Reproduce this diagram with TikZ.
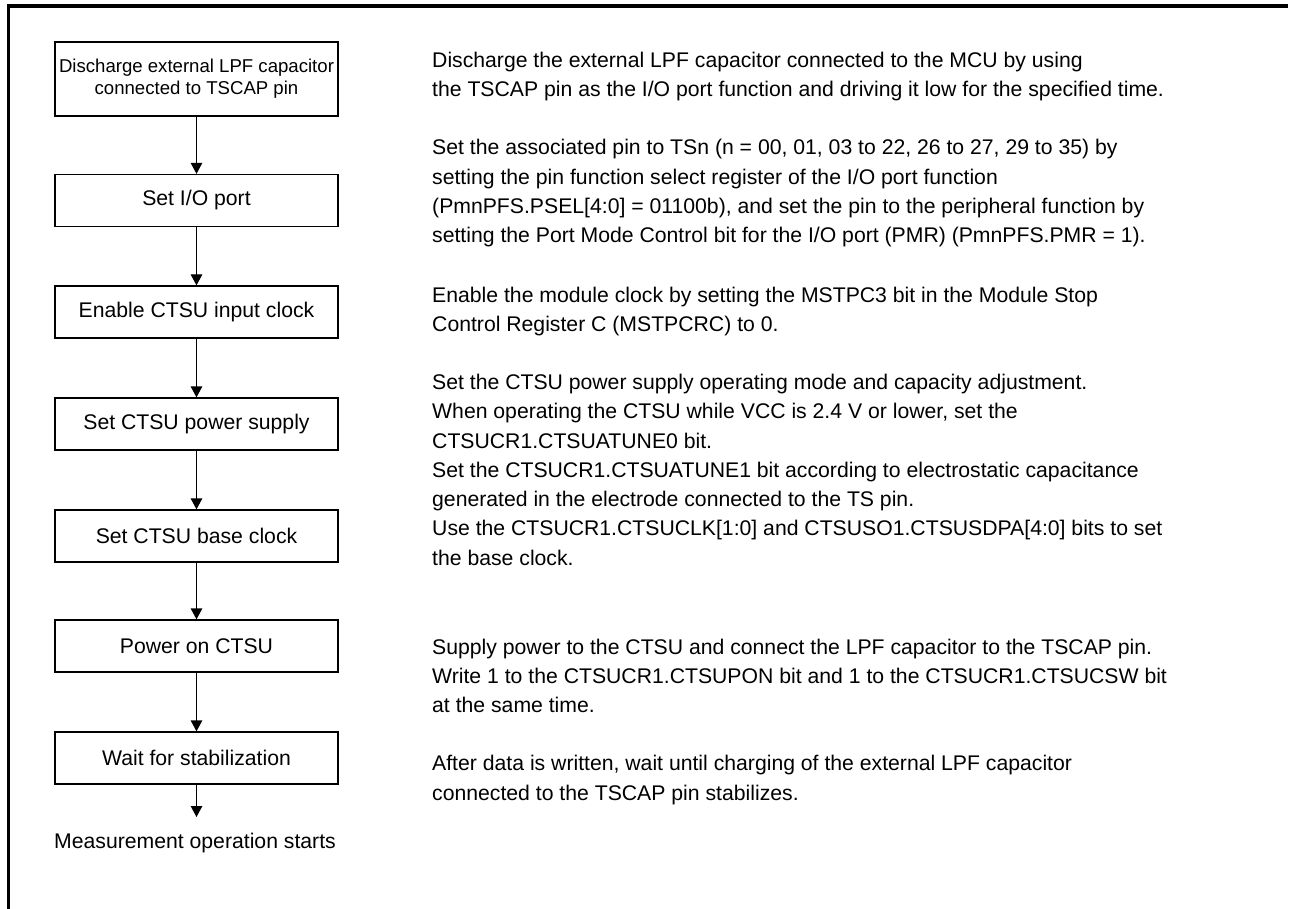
\documentclass[tikz,border=0pt]{standalone}
\usepackage{fontspec}
\setmainfont{Liberation Sans}
\usetikzlibrary{arrows.meta}
\begin{document}
\begin{tikzpicture}[x=1pt,y=-1pt,
  stepbox/.style={draw,line width=1.3pt,minimum width=283pt,minimum height=52pt,inner sep=0pt,
    font=\fontsize{21.2}{26}\selectfont,align=center},
  arr/.style={line width=1.3pt,-{Triangle[length=11pt,width=11.5pt]}},
  desc/.style={anchor=base west,inner sep=0pt,font=\fontsize{21.2}{29.3}\selectfont},
  frame/.style={line width=3.5pt,line join=miter}]
\useasboundingbox (0,0) rectangle (1290,909);
\draw[frame] (8.7,912) -- (8.7,6.2) -- (1288,6.2);
% flow boxes
\node[stepbox,minimum height=74pt,font=\fontsize{18.6}{22}\selectfont] (b1) at (196.5,79)
  {Discharge external LPF capacitor\\connected to TSCAP pin};
\node[stepbox] (b2) at (196.5,200.5) {Set I/O port};
\node[stepbox] (b3) at (196.5,312) {Enable CTSU input clock};
\node[stepbox] (b4) at (196.5,424) {Set CTSU power supply};
\node[stepbox] (b5) at (196.5,536) {Set CTSU base clock};
\node[stepbox] (b6) at (196.5,646) {Power on CTSU};
\node[stepbox] (b7) at (196.5,758) {Wait for stabilization};
\coordinate (endpt) at (196.5,817);
\node[anchor=base,inner sep=0pt,font=\fontsize{21.2}{26}\selectfont] (msg) at (195,848)
  {Measurement operation starts};
\draw[arr] (b1) -- (b2);
\draw[arr] (b2) -- (b3);
\draw[arr] (b3) -- (b4);
\draw[arr] (b4) -- (b5);
\draw[arr] (b5) -- (b6);
\draw[arr] (b6) -- (b7);
\draw[arr] (b7) -- (endpt);
% descriptions
\node[desc] (t1a) at (432,67.3) {Discharge the external LPF capacitor connected to the MCU by using};
\node[desc] (t1b) at (432,96.7) {the TSCAP pin as the I/O port function and driving it low for the specified time.};
\node[desc] (t2a) at (432,155) {Set the associated pin to TSn (n = 00, 01, 03 to 22, 26 to 27, 29 to 35) by};
\node[desc] (t2b) at (432,184.3) {setting the pin function select register of the I/O port function};
\node[desc] (t2c) at (432,213.3) {(PmnPFS.PSEL[4:0] = 01100b), and set the pin to the peripheral function by};
\node[desc] (t2d) at (432,242.5) {setting the Port Mode Control bit for the I/O port (PMR) (PmnPFS.PMR = 1).};
\node[desc] (t3a) at (432,302) {Enable the module clock by setting the MSTPC3 bit in the Module Stop};
\node[desc] (t3b) at (432,331.5) {Control Register C (MSTPCRC) to 0.};
\node[desc] (t4a) at (432,389.3) {Set the CTSU power supply operating mode and capacity adjustment.};
\node[desc] (t4b) at (432,418.5) {When operating the CTSU while VCC is 2.4 V or lower, set the};
\node[desc] (t4c) at (432,448) {CTSUCR1.CTSUATUNE0 bit.};
\node[desc] (t4d) at (432,477.3) {Set the CTSUCR1.CTSUATUNE1 bit according to electrostatic capacitance};
\node[desc] (t4e) at (432,506.6) {generated in the electrode connected to the TS pin.};
\node[desc] (t4f) at (432,535.8) {Use the CTSUCR1.CTSUCLK[1:0] and CTSUSO1.CTSUSDPA[4:0] bits to set};
\node[desc] (t4g) at (432,565) {the base clock.};
\node[desc] (t5a) at (432,654) {Supply power to the CTSU and connect the LPF capacitor to the TSCAP pin.};
\node[desc] (t5b) at (432,683.3) {Write 1 to the CTSUCR1.CTSUPON bit and 1 to the CTSUCR1.CTSUCSW bit};
\node[desc] (t5c) at (432,712.6) {at the same time.};
\node[desc] (t6a) at (432,770.7) {After data is written, wait until charging of the external LPF capacitor};
\node[desc] (t6b) at (432,800) {connected to the TSCAP pin stabilizes.};
\end{tikzpicture}
\end{document}
